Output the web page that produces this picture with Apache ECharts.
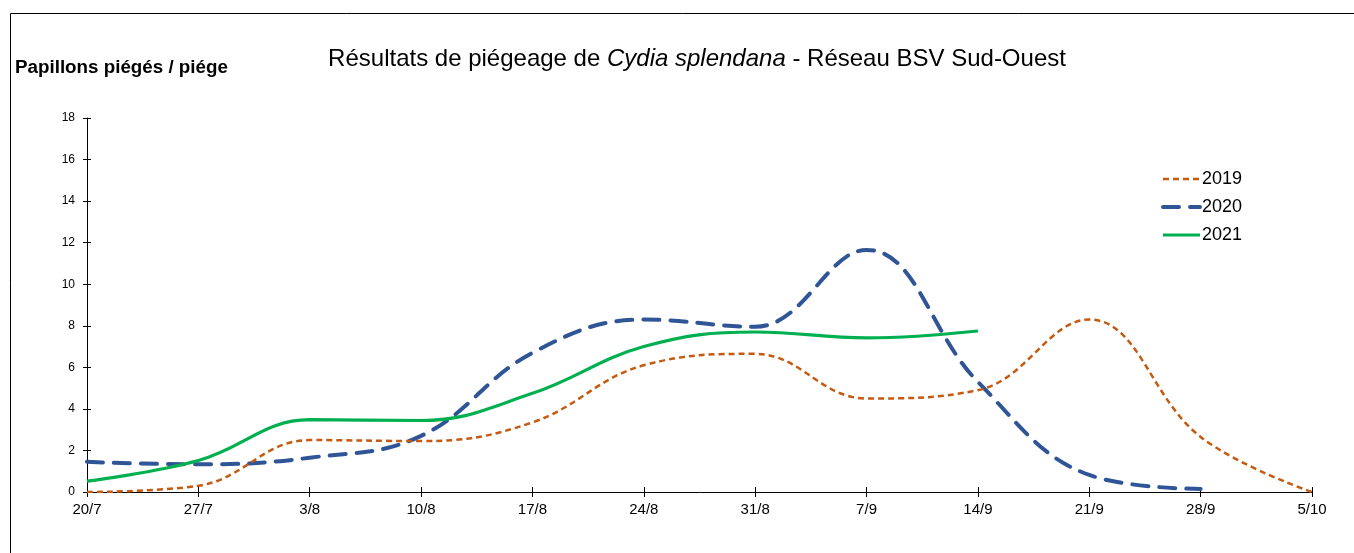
<!DOCTYPE html>
<html>
<head>
<meta charset="utf-8">
<script src="https://cdn.jsdelivr.net/npm/echarts@6/dist/echarts.min.js"></script>
<style>
  html, body { margin: 0; padding: 0; background: #fff; }
  #JS_TrapChart { width: 1354px; height: 553px; }
</style>
</head>
<body>
<div id="JS_TrapChart"></div>
<script>
// semaines de relevé
const weeks = ["20/7", "27/7", "3/8", "10/8", "17/8", "24/8", "31/8", "7/9", "14/9", "21/9", "28/9", "5/10"];
const yTicks = [0, 2, 4, 6, 8, 10, 12, 14, 16, 18];

// papillons piégés / piège, par année
const y2019 = [0, 0.3, 2.5, 2.45, 3.35, 6.1, 6.65, 4.5, 4.9, 8.3, 2.65, 0];
const y2020 = [1.45, 1.33, 1.65, 2.7, 6.7, 8.3, 7.95, 11.65, 5.3, 0.82, 0.15];
const y2021 = [0.52, 1.52, 3.48, 3.44, 4.75, 7.0, 7.7, 7.42, 7.75];

let option;

function initOpt() {
  const font = "Liberation Sans, Arial, sans-serif";
  const style2019 = { color: "#c55a11", width: 2.5, type: [6, 4] };
  const style2020 = { color: "#2f5597", width: 4, type: [16, 11], cap: "round" };
  const style2021 = { color: "#00b050", width: 3.2 };
  const hidden = { color: "rgba(0,0,0,0)", borderWidth: 0 };
  option = {
    animation: false,
    textStyle: { fontFamily: font, color: "#000" },
    title: [
      {
        text: "{n|Résultats de piégeage de }{i|Cydia splendana}{n| - Réseau BSV Sud-Ouest}",
        left: 692,
        top: 42,
        textAlign: "center",
        textStyle: {
          fontWeight: "normal",
          rich: {
            n: { fontFamily: font, fontSize: 24, fontWeight: "normal", color: "#000" },
            i: { fontFamily: font, fontSize: 24, fontWeight: "normal", fontStyle: "italic", color: "#000" },
          },
        },
      },
      {
        text: "Papillons piégés / piége",
        left: 10,
        top: 53,
        textStyle: { fontFamily: font, fontSize: 18.8, fontWeight: "bold", color: "#000" },
      },
    ],
    graphic: [
      {
        type: "rect",
        shape: { x: 10.5, y: 13.5, width: 1400, height: 600 },
        style: { fill: "none", stroke: "#000", lineWidth: 1 },
        silent: true,
      },
    ],
    legend: {
      orient: "vertical",
      left: 1156,
      top: 165,
      itemWidth: 37,
      itemHeight: 8,
      itemGap: 10,
      textStyle: { fontFamily: font, fontSize: 18, color: "#000", padding: [0, 0, 0, -3] },
      data: [
        { name: "2019", itemStyle: hidden, lineStyle: style2019 },
        { name: "2020", itemStyle: hidden, lineStyle: style2020 },
        { name: "2021", itemStyle: hidden, lineStyle: style2021 },
      ],
    },
    grid: { left: 87, right: 42, top: 118, bottom: 61 },
    xAxis: [
      {
        type: "category",
        boundaryGap: false,
        data: weeks,
        axisLine: { lineStyle: { color: "#000", width: 1 } },
        axisTick: { length: 5, lineStyle: { color: "#000" } },
        axisLabel: { color: "#000", fontSize: 15, margin: 10, fontFamily: font },
      },
      {
        type: "category",
        boundaryGap: false,
        data: weeks,
        position: "bottom",
        axisLine: { show: false },
        axisTick: { inside: true, length: 5, lineStyle: { color: "#000" } },
        axisLabel: { show: false },
      },
    ],
    yAxis: [
      {
        type: "value",
        min: 0,
        max: 18,
        interval: 2,
        axisLine: { show: true, lineStyle: { color: "#000", width: 1 } },
        axisTick: { show: true, length: 4, lineStyle: { color: "#000" } },
        axisLabel: {
          color: "#000",
          fontSize: 12,
          margin: 12,
          fontFamily: font,
          formatter: (v) => (yTicks.includes(v) ? String(v) : ""),
        },
        splitLine: { show: false },
      },
      {
        type: "value",
        min: 0,
        max: 18,
        interval: 2,
        position: "left",
        axisLine: { show: false },
        axisTick: { show: true, inside: true, length: 4, lineStyle: { color: "#000" } },
        axisLabel: { show: false },
        splitLine: { show: false },
      },
    ],
    series: [
      {
        name: "2019",
        type: "line",
        data: y2019,
        smooth: 0.4,
        symbol: "circle",
        showSymbol: false,
        lineStyle: style2019,
        itemStyle: { color: "#c55a11" },
        z: 3,
      },
      {
        name: "2020",
        type: "line",
        data: y2020,
        smooth: 0.4,
        symbol: "circle",
        showSymbol: false,
        lineStyle: style2020,
        itemStyle: { color: "#2f5597" },
        z: 2,
      },
      {
        name: "2021",
        type: "line",
        data: y2021,
        smooth: 0.4,
        symbol: "circle",
        showSymbol: false,
        lineStyle: style2021,
        itemStyle: { color: "#00b050" },
        z: 4,
      },
    ],
  };
}

function initView() {
  initOpt();
  const chartDom = document.getElementById("JS_TrapChart");
  const trapChart = echarts.init(chartDom);
  option && trapChart.setOption(option);
}

initView();
</script>
</body>
</html>
